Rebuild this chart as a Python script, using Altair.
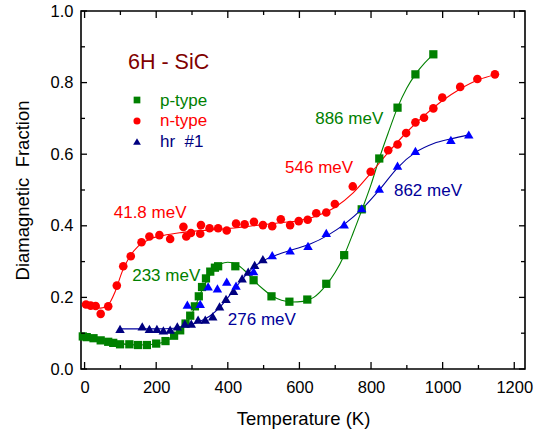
import altair as alt
import pandas as pd

FONT = "Liberation Sans"

# ---- measured points (Temperature K, Diamagnetic fraction) ----
p_T = [-5, 6, 25, 45, 66, 80, 99, 125, 149, 174, 200, 226, 250, 267, 282, 295, 308, 319, 328, 339, 351, 364, 373, 421, 472, 522, 572, 622, 675, 725, 774, 823, 874, 924, 974]
p_F = [0.091, 0.089, 0.086, 0.080, 0.076, 0.073, 0.069, 0.069, 0.067, 0.067, 0.071, 0.078, 0.093, 0.108, 0.127, 0.149, 0.175, 0.203, 0.229, 0.253, 0.272, 0.283, 0.287, 0.287, 0.248, 0.203, 0.188, 0.194, 0.238, 0.318, 0.446, 0.588, 0.730, 0.823, 0.879]

n_T = [4, 17, 31, 45, 66, 90, 108, 129, 159, 181, 209, 239, 276, 284, 297, 323, 325, 349, 373, 397, 423, 447, 473, 498, 524, 548, 574, 598, 623, 647, 675, 699, 749, 799, 848, 874, 898, 924, 948, 974, 999, 1049, 1097, 1146]
n_F = [0.180, 0.177, 0.176, 0.154, 0.175, 0.233, 0.287, 0.315, 0.354, 0.370, 0.374, 0.363, 0.397, 0.370, 0.380, 0.378, 0.402, 0.393, 0.393, 0.387, 0.406, 0.404, 0.411, 0.402, 0.399, 0.418, 0.402, 0.413, 0.417, 0.435, 0.437, 0.461, 0.510, 0.551, 0.611, 0.627, 0.659, 0.689, 0.702, 0.728, 0.758, 0.788, 0.810, 0.823]

hr1_T = [99, 161, 181, 202, 220, 239, 259, 280, 298, 317, 337, 358, 377, 395, 416, 440, 457, 475, 498]
hr1_F = [0.112, 0.119, 0.112, 0.112, 0.108, 0.110, 0.119, 0.127, 0.127, 0.138, 0.138, 0.147, 0.175, 0.196, 0.218, 0.253, 0.272, 0.291, 0.307]

hr2_T = [287, 323, 345, 371, 397, 423, 472, 524, 574, 624, 675, 725, 774, 823, 874, 924, 1023, 1073]
hr2_F = [0.180, 0.182, 0.231, 0.225, 0.244, 0.233, 0.273, 0.318, 0.331, 0.344, 0.380, 0.404, 0.449, 0.504, 0.568, 0.609, 0.640, 0.655]

# ---- fitted curves as drawn ----
pc_T = [-5, 50, 100, 150, 200, 240, 270, 300, 330, 355, 380, 400, 425, 450, 475, 500, 525, 550, 580, 610, 640, 675, 700, 725, 750, 775, 800, 823, 850, 874, 900, 924, 950, 974]
pc_F = [0.091, 0.080, 0.071, 0.067, 0.070, 0.085, 0.110, 0.155, 0.225, 0.270, 0.293, 0.298, 0.292, 0.272, 0.245, 0.222, 0.203, 0.192, 0.187, 0.189, 0.200, 0.235, 0.270, 0.318, 0.380, 0.446, 0.515, 0.588, 0.665, 0.730, 0.785, 0.823, 0.855, 0.879]

nc_T = [4, 25, 45, 65, 85, 105, 125, 150, 180, 220, 270, 330, 400, 470, 540, 600, 650, 700, 750, 800, 850, 900, 950, 1000, 1050, 1100, 1146]
nc_F = [0.180, 0.176, 0.170, 0.178, 0.215, 0.272, 0.312, 0.343, 0.362, 0.373, 0.381, 0.387, 0.392, 0.400, 0.408, 0.415, 0.428, 0.452, 0.492, 0.548, 0.607, 0.662, 0.709, 0.750, 0.783, 0.808, 0.822]

hc_T = [99, 150, 200, 250, 290, 320, 350, 380, 410, 440, 470, 500, 540, 580, 630, 680, 725, 775, 823, 874, 924, 975, 1023, 1073]
hc_F = [0.112, 0.112, 0.112, 0.114, 0.122, 0.132, 0.148, 0.175, 0.212, 0.250, 0.283, 0.303, 0.320, 0.333, 0.349, 0.374, 0.404, 0.447, 0.500, 0.562, 0.605, 0.630, 0.643, 0.654]

# ---- annotations ----
ann_text = ["41.8 meV", "233 meV", "276 meV", "546 meV", "886 meV", "862 meV"]
ann_T = [183, 228, 495, 655, 739, 959]
ann_F = [0.437, 0.261, 0.136, 0.562, 0.698, 0.496]
ann_col = ["n", "p", "h", "n", "p", "h"]

legend_labels = ["p-type", "n-type", "hr\u00a0 #1"]

x_major = [0, 200, 400, 600, 800, 1000, 1200]
x_minor = [100, 300, 500, 700, 900, 1100]
y_major = [0.0, 0.2, 0.4, 0.6, 0.8, 1.0]
y_minor = [0.1, 0.3, 0.5, 0.7, 0.9]

W, H = 444, 358
xs = alt.Scale(domain=[-10, 1230], nice=False, zero=False)
ys = alt.Scale(domain=[0, 1], nice=False, zero=False)

cdom = ["p", "n", "h1", "h2", "h"]
crng = ["#008000", "#ff0000", "#000080", "#0000ff", "#0000a0"]
cscale = alt.Scale(domain=cdom, range=crng)

xaxis = alt.Axis(values=x_major, format="d", ticks=False, domain=False, grid=False, labelFont=FONT,
                 labelFontSize=16.5, labelColor="black", labelPadding=10, title="Temperature (K)",
                 titleFont=FONT, titleFontSize=18.5, titleFontWeight="normal", titleColor="black",
                 titlePadding=14)
yaxis = alt.Axis(values=y_major, format=".1f", ticks=False, domain=False, grid=False, labelFont=FONT,
                 labelFontSize=16.5, labelColor="black", labelPadding=8, title="Diamagnetic\u00a0 Fraction",
                 titleFont=FONT, titleFontSize=18.5, titleFontWeight="normal", titleColor="black",
                 titlePadding=18)

pts = pd.concat([
    pd.DataFrame({"T": p_T, "F": p_F, "s": "p"}),
    pd.DataFrame({"T": hr1_T, "F": hr1_F, "s": "h1"}),
    pd.DataFrame({"T": hr2_T, "F": hr2_F, "s": "h2"}),
    pd.DataFrame({"T": n_T, "F": n_F, "s": "n"}),
], ignore_index=True)

curves = pd.concat([
    pd.DataFrame({"T": pc_T, "F": pc_F, "s": "p"}),
    pd.DataFrame({"T": hc_T, "F": hc_F, "s": "h"}),
    pd.DataFrame({"T": nc_T, "F": nc_F, "s": "n"}),
], ignore_index=True)

Xn = alt.X("T:Q", scale=xs, axis=None)
Yn = alt.Y("F:Q", scale=ys, axis=None)

lines = alt.Chart(curves).mark_line(strokeWidth=1.1, interpolate="monotone").encode(
    x=alt.X("T:Q", scale=xs, axis=xaxis), y=alt.Y("F:Q", scale=ys, axis=yaxis), detail="s:N",
    color=alt.Color("s:N", scale=cscale, legend=None))

def pmark(df, shape, size):
    return alt.Chart(df).mark_point(shape=shape, filled=True, size=size, opacity=1).encode(
        x=Xn, y=Yn, color=alt.Color("s:N", scale=cscale, legend=None))

sq = pmark(pts[pts.s == "p"], "square", 68)
tri1 = pmark(pts[pts.s == "h1"], "triangle-up", 90)
tri2 = pmark(pts[pts.s == "h2"], "triangle-up", 90)
circ = pmark(pts[pts.s == "n"], "circle", 74)

ann = alt.Chart(pd.DataFrame({"t": ann_text, "T": ann_T, "F": ann_F, "s": ann_col})).mark_text(
    font=FONT, fontSize=17, align="center", baseline="middle").encode(
    x=Xn, y=Yn, text="t:N",
    color=alt.Color("s:N", scale=alt.Scale(domain=["p", "n", "h"], range=["#008000", "#ff0000", "#000099"]), legend=None))

# ticks inside frame
xmaj = pd.DataFrame({"v": x_major})
xmin = pd.DataFrame({"v": x_minor})
ymaj = pd.DataFrame({"v": y_major})
ymin = pd.DataFrame({"v": y_minor})

def xticks(df, L):
    xe = alt.X("v:Q", scale=xs, axis=None)
    b = alt.Chart(df).mark_rule(color="black", strokeWidth=1.3).encode(x=xe, y=alt.value(H), y2=alt.value(H - L))
    t = alt.Chart(df).mark_rule(color="black", strokeWidth=1.3).encode(x=xe, y=alt.value(0), y2=alt.value(L))
    return [b, t]

def yticks(df, L):
    ye = alt.Y("v:Q", scale=ys, axis=None)
    l = alt.Chart(df).mark_rule(color="black", strokeWidth=1.3).encode(y=ye, x=alt.value(0), x2=alt.value(L))
    r = alt.Chart(df).mark_rule(color="black", strokeWidth=1.3).encode(y=ye, x=alt.value(W), x2=alt.value(W - L))
    return [l, r]

ticks = xticks(xmaj, 7) + xticks(xmin, 4) + yticks(ymaj, 6) + yticks(ymin, 4)

# legend / title block
title = alt.Chart(pd.DataFrame({"t": ["6H - SiC"]})).mark_text(
    font=FONT, fontSize=21.5, align="left", baseline="middle", color="#800000").encode(
    x=alt.value(47), y=alt.value(52), text="t:N")

leg_df = pd.DataFrame({"t": legend_labels})
leg_sq = alt.Chart(leg_df.iloc[[0]]).mark_point(shape="square", filled=True, size=45, opacity=1, color="#008000").encode(
    x=alt.value(56), y=alt.value(89))
leg_ci = alt.Chart(leg_df.iloc[[1]]).mark_point(shape="circle", filled=True, size=50, opacity=1, color="#ff0000").encode(
    x=alt.value(56), y=alt.value(110))
leg_tr = alt.Chart(leg_df.iloc[[2]]).mark_point(shape="triangle-up", filled=True, size=60, opacity=1, color="#000080").encode(
    x=alt.value(56), y=alt.value(130.5))
leg_t1 = alt.Chart(leg_df.iloc[[0]]).mark_text(font=FONT, fontSize=17, align="left", baseline="middle", color="#008000").encode(
    x=alt.value(79), y=alt.value(89.5), text="t:N")
leg_t2 = alt.Chart(leg_df.iloc[[1]]).mark_text(font=FONT, fontSize=17, align="left", baseline="middle", color="#ff0000").encode(
    x=alt.value(79), y=alt.value(110), text="t:N")
leg_t3 = alt.Chart(leg_df.iloc[[2]]).mark_text(font=FONT, fontSize=17, align="left", baseline="middle", color="#000080").encode(
    x=alt.value(79), y=alt.value(130.5), text="t:N")

chart = alt.layer(
    lines, sq, tri1, tri2, circ, ann, *ticks, title,
    leg_sq, leg_ci, leg_tr, leg_t1, leg_t2, leg_t3
).properties(
    width=W, height=H, autosize="none",
    padding={"left": 81, "top": 11, "right": 15, "bottom": 60},
    background="white"
).configure_view(stroke="black", strokeWidth=1.6).resolve_scale(color="independent").resolve_axis(
    x="independent", y="independent")

chart.save("out.html", embed_options={"renderer": "svg", "actions": False})
